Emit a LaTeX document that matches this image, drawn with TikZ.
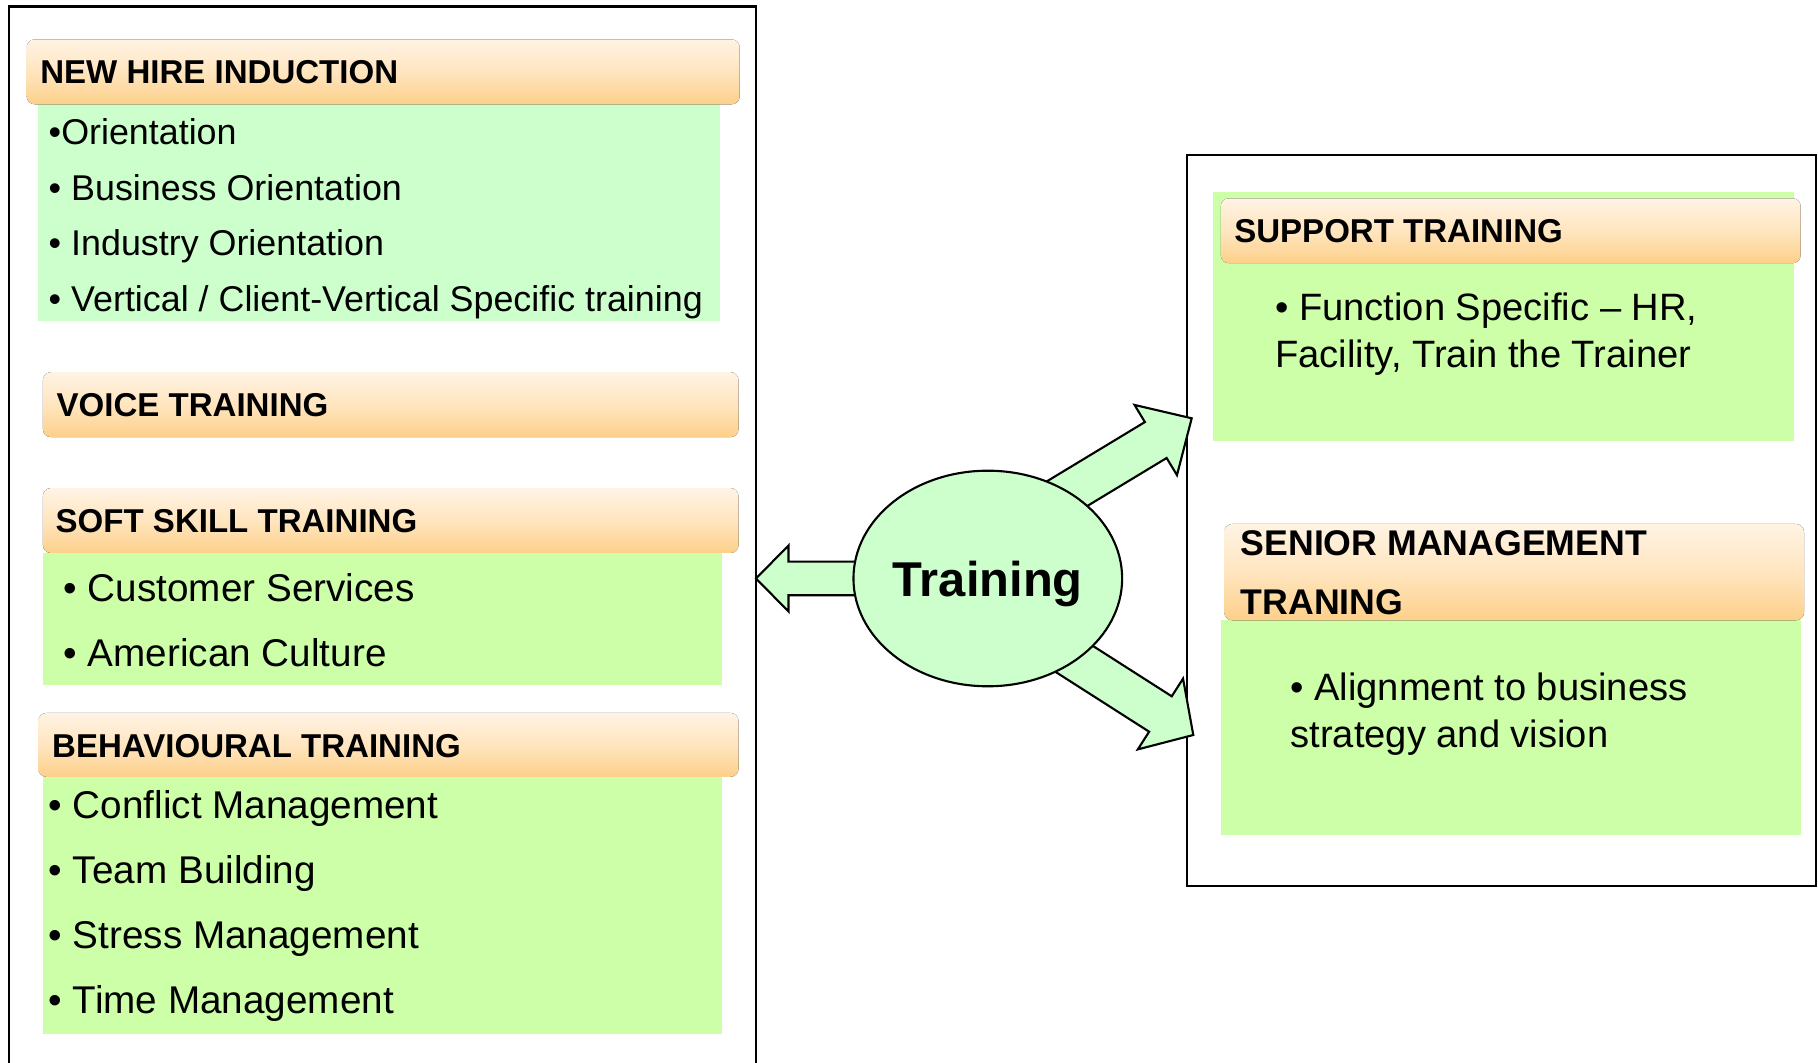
\documentclass[tikz,border=0pt]{standalone}
\usepackage{fontspec}
\setmainfont{Liberation Sans}
\usetikzlibrary{calc,shapes.geometric}

\definecolor{hdrtop}{HTML}{FFF3E4}
\definecolor{hdrmid}{HTML}{FFE5BF}
\definecolor{hdrbot}{HTML}{FDD08A}
\definecolor{mint}{HTML}{CCFFCC}
\definecolor{lime}{HTML}{CCFFA8}

\tikzset{
	header/.style={rounded corners=0.8mm, top color=hdrtop, bottom color=hdrbot, middle color=hdrmid},
	headtext/.style={anchor=base west, inner sep=0pt, font=\fontsize{9.4}{11}\selectfont\bfseries},
	itemtext/.style={anchor=base west, inner sep=0pt, font=\fontsize{11}{13}\selectfont},
	hiretext/.style={anchor=base west, inner sep=0pt, font=\fontsize{10.2}{12}\selectfont},
	righttext/.style={anchor=base west, inner sep=0pt, font=\fontsize{10.85}{13}\selectfont},
	arrowbody/.style={draw, fill=mint, line width=0.6pt, line join=miter},
	panel/.style={draw, line width=0.6pt}
}

% block arrow: from, to, half shaft, half head, head length
\newcommand{\blockarrow}[5]{%
	\coordinate (ah) at ($(#2)!#5!(#1)$);
	\draw[arrowbody] ($(#1)!#3!90:(#2)$) -- ($(ah)!#3!90:(#2)$) -- ($(ah)!#4!90:(#2)$) -- (#2)
		-- ($(ah)!#4!-90:(#2)$) -- ($(ah)!#3!-90:(#2)$) -- ($(#1)!#3!-90:(#2)$) -- cycle;
}

\begin{document}
\begin{tikzpicture}
	\useasboundingbox (0,0) rectangle (18.18,-10.63);

	% Draw panels
	%Left
	\draw[panel] (0.093,-10.63) -- (0.093,-0.065) -- (7.56,-0.065) -- (7.56,-10.63);
	%Right
	\draw[panel] (11.87,-1.55) rectangle (18.16,-8.86);

	% Left panel: new hire induction
	\fill[mint] (0.383,-1.043) rectangle (7.20,-3.212);
	\fill[header] (0.267,-0.394) rectangle (7.397,-1.043);
	\node[headtext] (hire) at (0.396,-0.837) {NEW HIRE INDUCTION};
	\node[hiretext] (hire1) at (0.48,-1.447) {•Orientation};
	\node[hiretext] (hire2) at (0.48,-2.003) {• Business Orientation};
	\node[hiretext] (hire3) at (0.48,-2.56) {• Industry Orientation};
	\node[hiretext] (hire4) at (0.48,-3.116) {• Vertical / Client-Vertical Specific training};

	% Left panel: voice training
	\fill[header] (0.429,-3.722) rectangle (7.385,-4.371);
	\node[headtext] (voice) at (0.56,-4.164) {VOICE TRAINING};

	% Left panel: soft skill training
	\fill[lime] (0.429,-5.53) rectangle (7.223,-6.852);
	\fill[header] (0.429,-4.881) rectangle (7.385,-5.53);
	\node[headtext] (soft) at (0.55,-5.324) {SOFT SKILL TRAINING};
	\node[itemtext] (soft1) at (0.63,-6.016) {• Customer Services};
	\node[itemtext] (soft2) at (0.63,-6.665) {• American Culture};

	% Left panel: behavioural training
	\fill[lime] (0.429,-7.768) rectangle (7.223,-10.342);
	\fill[header] (0.383,-7.13) rectangle (7.385,-7.768);
	\node[headtext] (behav) at (0.515,-7.573) {BEHAVIOURAL TRAINING};
	\node[itemtext] (behav1) at (0.48,-8.184) {• Conflict Management};
	\node[itemtext] (behav2) at (0.48,-8.833) {• Team Building};
	\node[itemtext] (behav3) at (0.48,-9.483) {• Stress Management};
	\node[itemtext] (behav4) at (0.48,-10.132) {• Time Management};

	% Right panel: support training
	\fill[lime] (12.127,-1.925) rectangle (17.936,-4.406);
	\fill[header] (12.208,-1.983) rectangle (18.006,-2.632);
	\node[headtext] (support) at (12.336,-2.425) {SUPPORT TRAINING};
	\node[righttext] (support1) at (12.745,-3.207) {• Function Specific – HR,};
	\node[righttext] (support2) at (12.745,-3.671) {Facility, Train the Trainer};

	% Right panel: senior management
	\fill[lime] (12.208,-6.203) rectangle (18.006,-8.348);
	\fill[header] (12.243,-5.24) rectangle (18.04,-6.203);
	\node[headtext, font=\fontsize{10.15}{12}\selectfont\bfseries] (senior) at (12.40,-5.553) {SENIOR MANAGEMENT};
	\node[headtext, font=\fontsize{10.15}{12}\selectfont\bfseries] (senior2) at (12.40,-6.144) {TRANING};
	\node[righttext] (senior3) at (12.898,-7.01) {• Alignment to business};
	\node[righttext] (senior4) at (12.898,-7.474) {strategy and vision};

	% Arrows out of the centre
	\coordinate (fromleft) at (9.878,-5.785);
	\coordinate (toleft) at (7.56,-5.785);
	\coordinate (fromup) at (9.878,-5.416);
	\coordinate (toup) at (11.917,-4.183);
	\coordinate (fromdown) at (9.878,-6.037);
	\coordinate (todown) at (11.933,-7.35);
	\blockarrow{fromleft}{toleft}{0.168cm}{0.33cm}{0.325cm}
	\blockarrow{fromup}{toup}{0.21cm}{0.41cm}{0.42cm}
	\blockarrow{fromdown}{todown}{0.21cm}{0.42cm}{0.39cm}

	% Centre ellipse
	\node[draw, ellipse, fill=mint, line width=0.6pt, minimum width=2.654cm, minimum height=2.156cm, inner sep=0pt,
		text depth=0pt, font=\fontsize{13.9}{16}\selectfont\bfseries] (train) at (9.878,-5.785) {Training};
\end{tikzpicture}
\end{document}
